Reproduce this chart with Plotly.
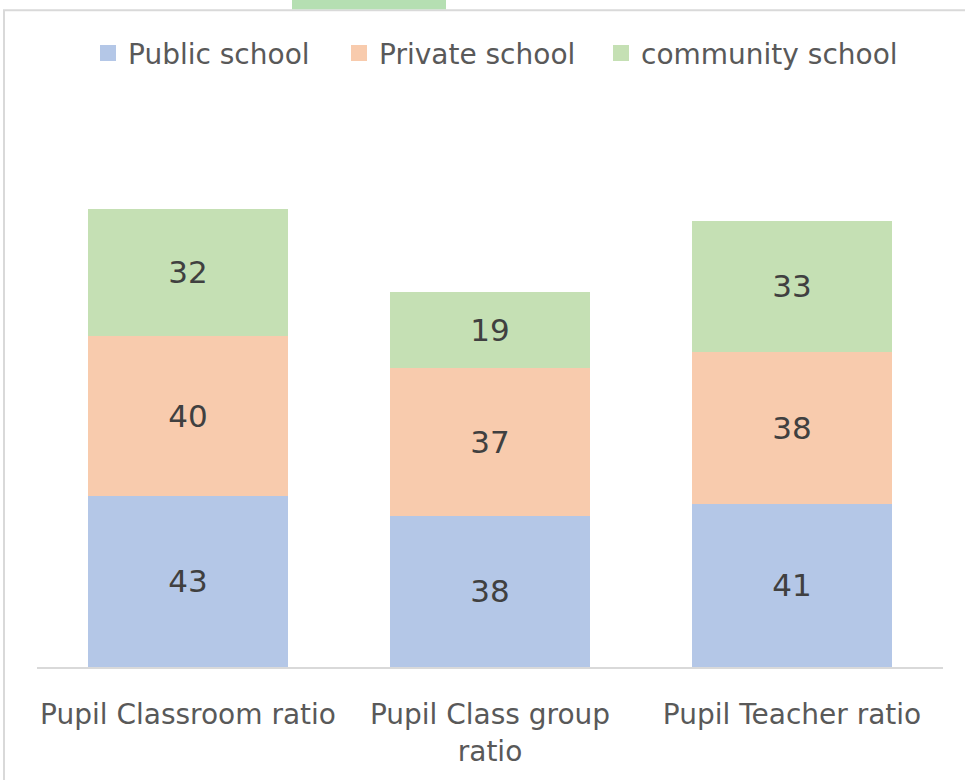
import plotly.graph_objects as go

categories = ["Pupil Classroom ratio", "Pupil Class group<br>ratio", "Pupil Teacher ratio"]
series_names = ["Public school", "Private school", "community school"]
public_vals = [43, 38, 41]
private_vals = [40, 37, 38]
community_vals = [32, 19, 33]
colors = ["#B4C7E7", "#F8CBAD", "#C5E0B4"]

FONT = "DejaVu Sans"
legend_ids = ["legend", "legend2", "legend3"]
legend_left_px = [88, 339, 601]

fig = go.Figure()
for name, vals, col in zip(series_names, [public_vals, private_vals, community_vals], colors):
    fig.add_trace(go.Bar(
        x=categories, y=vals, name=name, showlegend=False,
        marker=dict(color=col, line=dict(width=0)),
        text=[str(v) for v in vals], textposition="inside", insidetextanchor="middle",
        textfont=dict(family=FONT, size=31, color="#404040"),
        hoverinfo="skip",
    ))
# legend entries (square swatches), one legend box per series
for name, col, lid in zip(series_names, colors, legend_ids):
    fig.add_trace(go.Scatter(
        x=[None], y=[None], name=name, mode="markers", legend=lid,
        marker=dict(symbol="square", size=18, color=col),
        hoverinfo="skip",
    ))

# plot area: x 37..943, y 109..669
W, H = 965, 780
L, R, T, B = 37, 22, 109, 111
pw, ph = W - L - R, H - T - B

def px(x):
    return (x - L) / pw

def py(y):
    return 1 + (T - y) / ph

legend_style = dict(orientation="h", xanchor="left", y=py(53), yanchor="middle",
                    font=dict(family=FONT, size=28, color="#595959"),
                    itemwidth=30, itemsizing="trace", bgcolor="rgba(0,0,0,0)")
legends = {lid: dict(legend_style, x=px(xl)) for lid, xl in zip(legend_ids, legend_left_px)}

fig.update_layout(
    width=W, height=H,
    barmode="stack", bargap=0.335,
    margin=dict(l=L, r=R, t=T, b=B),
    paper_bgcolor="white", plot_bgcolor="white",
    font=dict(family=FONT, color="#595959"),
    xaxis=dict(showline=True, linecolor="#D9D9D9", linewidth=1.5, ticks="",
               tickfont=dict(family=FONT, size=28, color="#595959"), fixedrange=True,
               ticklabelstandoff=22),
    yaxis=dict(range=[0, 140], visible=False, showgrid=False, fixedrange=True),
    shapes=[
        dict(type="rect", xref="paper", yref="paper", x0=px(4), x1=px(1100), y0=py(900), y1=py(10),
             line=dict(color="#D9D9D9", width=2), layer="below"),
        dict(type="rect", xref="paper", yref="paper", x0=px(292), x1=px(446), y0=py(9), y1=py(-5),
             line=dict(width=0), fillcolor="#B5DFB2", layer="below"),
    ],
    **legends,
)

fig.write_html("out.html", config={"displayModeBar": False},
               post_script="document.body.style.margin='0';")
